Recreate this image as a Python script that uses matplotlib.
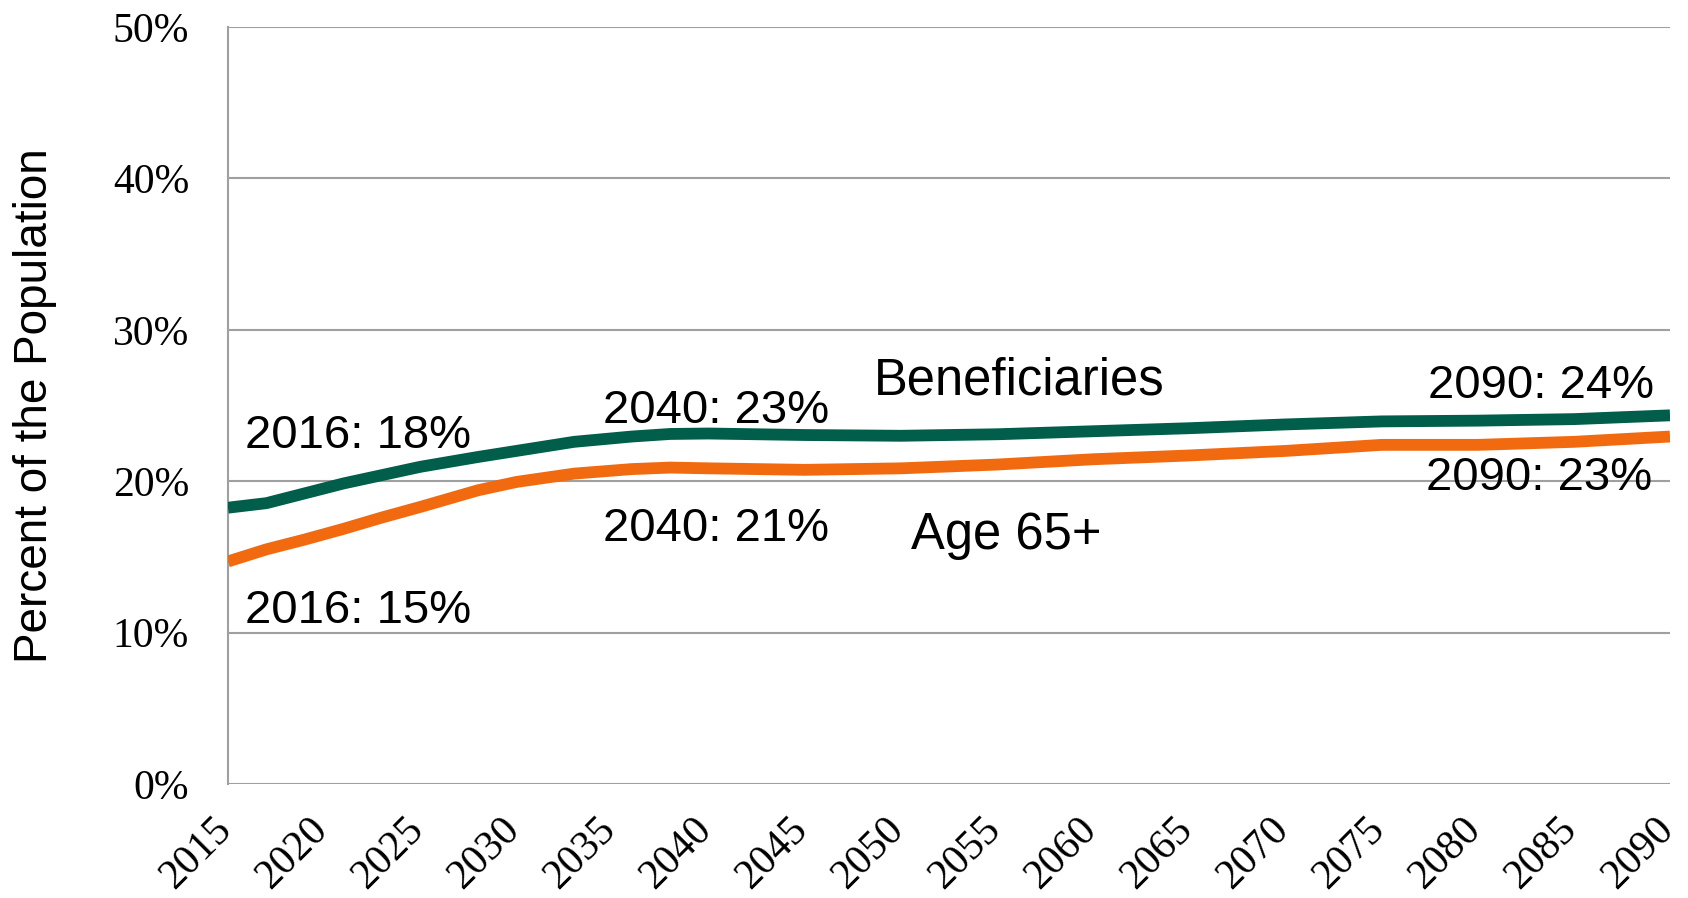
import matplotlib.pyplot as plt
import matplotlib.transforms as mtransforms
from matplotlib.ticker import FuncFormatter

# Percent of population
years = [2015, 2017, 2019, 2021, 2023, 2025, 2028, 2030, 2033, 2036, 2038, 2040,
         2045, 2050, 2055, 2060, 2065, 2070, 2075, 2080, 2085, 2090]
beneficiaries = [18.25, 18.55, 19.2, 19.85, 20.4, 20.95, 21.6, 22.0, 22.6, 22.95, 23.12, 23.15,
                 23.05, 23.0, 23.1, 23.3, 23.5, 23.75, 23.95, 24.0, 24.1, 24.35]
age65 = [14.7, 15.5, 16.15, 16.85, 17.6, 18.3, 19.4, 19.95, 20.5, 20.8, 20.9, 20.85,
         20.75, 20.85, 21.1, 21.45, 21.7, 22.0, 22.4, 22.4, 22.6, 22.95]

xticks = list(range(2015, 2091, 5))
yticks = [0, 10, 20, 30, 40, 50]

# label text, x, y (baseline)
labels = [
    ("2016: 18%", 2015.9, 22.2),
    ("2016: 15%", 2015.9, 10.65),
    ("2040: 23%", 2034.5, 23.85),
    ("2040: 21%", 2034.5, 16.05),
    ("2090: 24%", 2077.4, 25.5),
    ("2090: 23%", 2077.3, 19.4),
]
series_names = [("Beneficiaries", 2048.6, 25.7), ("Age 65+", 2050.5, 15.5)]

green = "#005e4b"
orange = "#f26a10"
grid_col = "#a0a0a0"

fig = plt.figure(figsize=(16.88, 8.98), dpi=100)
ax = fig.add_axes([228 / 1688, 1 - 784 / 898, (1670 - 228) / 1688, (784 - 27) / 898])

for y in yticks:
    ax.axhline(y, color=grid_col, lw=1.5, zorder=1)

ax.plot(years, beneficiaries, color=green, lw=8.5, solid_capstyle="butt", zorder=3)
ax.plot(years, age65, color=orange, lw=8.5, solid_capstyle="butt", zorder=3)

ax.set_xlim(2015, 2090)
ax.set_ylim(0, 50)
ax.set_xticks(xticks)
ax.set_yticks(yticks)
ax.yaxis.set_major_formatter(FuncFormatter(lambda v, _: f"{v:.0f}%"))

for s in ["top", "right", "bottom"]:
    ax.spines[s].set_visible(False)
ax.spines["left"].set_color(grid_col)
ax.spines["left"].set_linewidth(1.5)

ax.tick_params(axis="both", length=0, labelfontfamily="Liberation Serif")
ax.tick_params(axis="y", pad=28, labelsize=30)
ax.tick_params(axis="x", pad=19, labelsize=30)
shift = mtransforms.ScaledTranslation(0.11, 0, fig.dpi_scale_trans)
for t in ax.get_xticklabels():
    t.set_rotation(45)
    t.set_ha("right")
    t.set_va("top")
    t.set_transform(t.get_transform() + shift)

ax.set_ylabel("Percent of the Population", fontsize=33, family="Liberation Sans")
ax.yaxis.set_label_coords(-(228 - 57) / 1442, 0.5)

for txt, x, y in labels:
    ax.text(x, y, txt, fontsize=34, family="Liberation Sans", ha="left", va="baseline", zorder=4)
for txt, x, y in series_names:
    ax.text(x, y, txt, fontsize=36.5, family="Liberation Sans", ha="left", va="baseline", zorder=4)

fig.savefig("out.png", dpi=100)
